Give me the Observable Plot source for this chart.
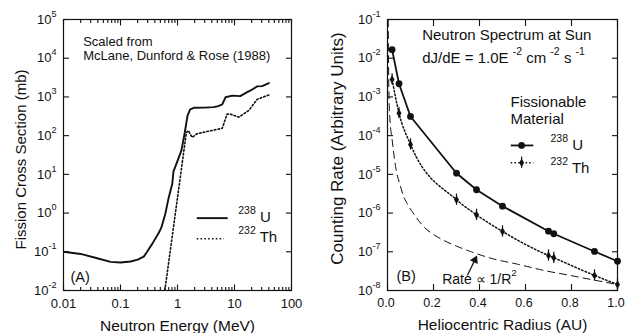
<!DOCTYPE html>
<html><head><meta charset="utf-8">
<script src="https://cdn.jsdelivr.net/npm/d3@7"></script>
<script src="https://cdn.jsdelivr.net/npm/@observablehq/plot@0.6"></script>
<style>
html,body{margin:0;padding:0;background:#fff;}
#chart{display:flex;width:625px;height:333px;background:#fff;overflow:hidden}
#chart svg{display:block;overflow:visible;flex:none}
</style></head><body><div id="chart"></div>
<script>
// ---------- Panel A: fission cross sections ----------
const uEnergy = [0.01,0.02,0.039,0.067,0.1,0.15,0.2,0.256,0.293,0.36,0.47,0.52,0.61,0.7,0.81,0.85,0.92,1.17,1.33,1.5,1.67,1.94,3.0,4.3,5.2,6.1,6.95,9.1,12.6,16.7,19.2,25,30.5,40];
const uCross  = [0.1,0.088,0.068,0.055,0.053,0.056,0.063,0.075,0.1,0.16,0.31,0.42,0.95,2.5,5.7,12,16,41,112,330,480,525,530,545,580,640,980,1080,1050,1330,1470,1870,1900,2280];
const thEnergy = [0.6,1.43,1.55,1.8,2.2,3.5,6.1,7.4,8.5,11.9,17.8,24.9,30,40];
const thCross  = [0.01,120,135,90,112,130,155,360,360,300,447,860,960,1120];

const xTicksA = [0.01,0.1,1,10,100];
const xTickLabelsA = ["0.01","0.1","1","10","100"];
const xMinorA = [0.02,0.03,0.04,0.05,0.06,0.07,0.08,0.09,0.2,0.3,0.4,0.5,0.6,0.7,0.8,0.9,2,3,4,5,6,7,8,9,20,30,40,50,60,70,80,90];
const yTicksA = [1e-2,1e-1,1,10,100,1e3,1e4,1e5];
const yTickLabelsA = ["10^{-2}","10^{-1}","10^{0}","10^{1}","10^{2}","10^{3}","10^{4}","10^{5}"];

// ---------- Panel B: counting rate vs heliocentric radius ----------
const radius = [0.02,0.05,0.1,0.3,0.387,0.5,0.7,0.723,0.9,1.0];
const uRate  = [0.0166,0.00219,3.13e-4,1.07e-5,4.0e-6,1.51e-6,3.4e-7,2.92e-7,1.02e-7,5.7e-8];
const thRate = [2.83e-3,3.81e-4,5.93e-5,2.21e-6,9.0e-7,3.35e-7,8.0e-8,7.0e-8,2.45e-8,1.43e-8];
const thErrFactor = 1.4;
const invRadius = [0.003,0.006,0.01,0.02,0.035,0.056,0.071,0.086,0.12,0.158,0.2,0.245,0.3,0.36,0.45,0.564,0.68,0.796,0.9,1.0];
const invRate   = [0.1,1.5e-3,3e-4,8e-5,1.6e-5,5e-6,2.6e-6,1.74e-6,8.5e-7,4.4e-7,2.8e-7,1.96e-7,1.4e-7,1.02e-7,6.8e-8,4.8e-8,3.3e-8,2.44e-8,1.85e-8,1.43e-8];

const rTicksB = [0,0.2,0.4,0.6,0.8,1.0];
const rTickLabelsB = ["0.0","0.2","0.4","0.6","0.8","1.0"];
const yTicksB = [1e-8,1e-7,1e-6,1e-5,1e-4,1e-3,1e-2,1e-1];
const yTickLabelsB = ["10^{-8}","10^{-7}","10^{-6}","10^{-5}","10^{-4}","10^{-3}","10^{-2}","10^{-1}"];

const FONT = "'Liberation Sans', Arial, Helvetica, sans-serif";
const INK = "#111";

const uRows = uEnergy.map((e,i)=>({e, s:uCross[i]}));
const thRows = thEnergy.map((e,i)=>({e, s:thCross[i]}));
const uB = radius.map((r,i)=>({r, v:uRate[i]}));
const thB = radius.map((r,i)=>({r, v:thRate[i], lo: thRate[i]/thErrFactor, hi: thRate[i]*thErrFactor}));
const invB = invRadius.map((r,i)=>({r, v:invRate[i]}));

function fmt(ticks, labels){ return d => { const i = ticks.findIndex(t => Math.abs(t-d) <= Math.abs(t)*1e-9 + 1e-12); return i<0 ? "" : labels[i]; }; }

function tickAxes(axis, anchor, ticks, size){
  return axis({anchor, ticks, tickSize:size, fill:"none", label:null, stroke:INK, strokeWidth:1.1});
}

const left = Plot.plot({
  width: 312, height: 333,
  marginLeft: 63, marginRight: 21, marginTop: 19, marginBottom: 43,
  x: {type:"log", domain:[0.01,100]},
  y: {type:"log", domain:[0.01,1e5]},
  style: {fontFamily: FONT, fontSize:"13px", color: INK, background:"white", overflow:"visible"},
  marks: [
    Plot.line(uRows, {x:"e", y:"s", stroke:INK, strokeWidth:1.9, clip:true}),
    Plot.line(thRows, {x:"e", y:"s", stroke:INK, strokeWidth:1.6, strokeDasharray:"1.6,2.2", clip:true}),
    tickAxes(Plot.axisX, "bottom", xTicksA, -5.5),
    tickAxes(Plot.axisX, "bottom", xMinorA, -3),
    tickAxes(Plot.axisX, "top", xTicksA, -5.5),
    tickAxes(Plot.axisX, "top", xMinorA, -3),
    tickAxes(Plot.axisY, "left", yTicksA, -6),
    tickAxes(Plot.axisY, "right", yTicksA, -6),
    Plot.axisX({anchor:"bottom", ticks:xTicksA, tickFormat: fmt(xTicksA, xTickLabelsA), tickSize:0, tickPadding:8, fontSize:13, label:null, fill:INK}),
    Plot.axisY({anchor:"left", ticks:yTicksA, tickFormat: fmt(yTicksA, yTickLabelsA), tickSize:0, tickPadding:7, fontSize:13, label:null, fill:INK}),
    Plot.frame({stroke:INK, strokeWidth:1.2}),
    // legend samples
    Plot.ruleY([0.74], {x1:2.22, x2:7.75, stroke:INK, strokeWidth:1.9}),
    Plot.ruleY([0.217], {x1:2.22, x2:6.6, stroke:INK, strokeWidth:1.6, strokeDasharray:"1.6,2.2"}),
    Plot.text(["^{238} U"], {frameAnchor:"top-left", dx:174.7, dy:202, lineAnchor:"bottom", textAnchor:"start", fontSize:15, fill:INK}),
    Plot.text(["^{232} Th"], {frameAnchor:"top-left", dx:174.7, dy:222, lineAnchor:"bottom", textAnchor:"start", fontSize:15, fill:INK}),
    // annotations
    Plot.text(["Scaled from"], {frameAnchor:"top-left", dx:19.7, dy:26, lineAnchor:"bottom", textAnchor:"start", fontSize:13, fill:INK}),
    Plot.text(["McLane, Dunford & Rose (1988)"], {frameAnchor:"top-left", dx:19.7, dy:40.3, lineAnchor:"bottom", textAnchor:"start", fontSize:13, fill:INK}),
    Plot.text(["(A)"], {frameAnchor:"top-left", dx:7, dy:262.7, lineAnchor:"bottom", textAnchor:"start", fontSize:14.5, fill:INK}),
    // axis titles
    Plot.text(["Neutron Energy (MeV)"], {frameAnchor:"bottom", dy:40, lineAnchor:"bottom", textAnchor:"middle", fontSize:15.5, fill:INK}),
    Plot.text(["Fission Cross Section (mb)"], {frameAnchor:"left", dx:-38, dy:4.5, rotate:-90, lineAnchor:"bottom", textAnchor:"middle", fontSize:15, fill:INK})
  ]
});

const right = Plot.plot({
  width: 313, height: 333,
  marginLeft: 75, marginRight: 8, marginTop: 19, marginBottom: 43,
  x: {type:"linear", domain:[0,1]},
  y: {type:"log", domain:[1e-8,0.1]},
  style: {fontFamily: FONT, fontSize:"13px", color: INK, background:"white", overflow:"visible"},
  marks: [
    Plot.line(invB, {x:"r", y:"v", stroke:INK, strokeWidth:1, strokeDasharray:"7,5", curve:"monotone-x", clip:true}),
    Plot.line(thB, {x:"r", y:"v", stroke:INK, strokeWidth:1.5, strokeDasharray:"1.5,2.2", curve:"monotone-x", clip:true}),
    Plot.ruleX(thB, {x:"r", y1:"lo", y2:"hi", stroke:INK, strokeWidth:1.2}),
    Plot.dot(thB, {x:"r", y:"v", symbol:"diamond", r:2.6, fill:INK, stroke:"none"}),
    Plot.line(uB, {x:"r", y:"v", stroke:INK, strokeWidth:1.8}),
    Plot.dot(uB, {x:"r", y:"v", r:3.4, fill:INK, stroke:"none"}),
    tickAxes(Plot.axisX, "bottom", rTicksB, -6),
    tickAxes(Plot.axisX, "top", rTicksB, -6),
    tickAxes(Plot.axisY, "left", yTicksB, -6),
    tickAxes(Plot.axisY, "right", yTicksB, -6),
    Plot.axisX({anchor:"bottom", ticks:rTicksB, tickFormat: fmt(rTicksB, rTickLabelsB), tickSize:0, tickPadding:8, dx:-1.5, fontSize:12.5, label:null, fill:INK}),
    Plot.axisY({anchor:"left", ticks:yTicksB, tickFormat: fmt(yTicksB, yTickLabelsB), tickSize:0, tickPadding:7, fontSize:13, label:null, fill:INK}),
    Plot.frame({stroke:INK, strokeWidth:1.2}),
    // legend samples
    Plot.ruleY([5.58e-5], {x1:0.538, x2:0.636, stroke:INK, strokeWidth:1.8}),
    Plot.dot([{r:0.583, v:5.58e-5}], {x:"r", y:"v", r:3.4, fill:INK, stroke:"none"}),
    Plot.ruleY([2.0e-5], {x1:0.538, x2:0.636, stroke:INK, strokeWidth:1.5, strokeDasharray:"1.5,2.2"}),
    Plot.ruleX([{r:0.583, lo:2.0e-5/thErrFactor, hi:2.0e-5*thErrFactor}], {x:"r", y1:"lo", y2:"hi", stroke:INK, strokeWidth:1.2}),
    Plot.dot([{r:0.583, v:2.0e-5}], {x:"r", y:"v", symbol:"diamond", r:2.6, fill:INK, stroke:"none"}),
    Plot.text(["^{238} U"], {frameAnchor:"top-left", dx:163, dy:130, lineAnchor:"bottom", textAnchor:"start", fontSize:15, fill:INK}),
    Plot.text(["^{232} Th"], {frameAnchor:"top-left", dx:163, dy:153.7, lineAnchor:"bottom", textAnchor:"start", fontSize:15, fill:INK}),
    Plot.text(["Fissionable"], {frameAnchor:"top-left", dx:123, dy:87, lineAnchor:"bottom", textAnchor:"start", fontSize:15, fill:INK}),
    Plot.text(["Material"], {frameAnchor:"top-left", dx:123, dy:104.3, lineAnchor:"bottom", textAnchor:"start", fontSize:15, fill:INK}),
    // header annotations
    Plot.text(["Neutron Spectrum at Sun"], {frameAnchor:"top-left", dx:34.7, dy:20.3, lineAnchor:"bottom", textAnchor:"start", fontSize:15, fill:INK}),
    Plot.text(["dJ/dE = 1.0E ^{-2} cm ^{-2} s ^{-1}"], {frameAnchor:"top-left", dx:34.7, dy:43.7, lineAnchor:"bottom", textAnchor:"start", fontSize:15, fill:INK}),
    Plot.text(["(B)"], {frameAnchor:"top-left", dx:9, dy:261, lineAnchor:"bottom", textAnchor:"start", fontSize:14.5, fill:INK}),
    Plot.text(["Rate \u221D 1/R^{2}"], {frameAnchor:"top-left", dx:54.7, dy:264.3, lineAnchor:"bottom", textAnchor:"start", fontSize:14, fill:INK}),
    // arrow pointing to the 1/R^2 curve
    Plot.link([{x1:0.347, y1:2.45e-8, x2:0.380, y2:6.18e-8}], {x1:"x1", y1:"y1", x2:"x2", y2:"y2", stroke:INK, strokeWidth:1.2}),
    Plot.dot([{r:0.380, v:6.18e-8}], {x:"r", y:"v", symbol:"triangle", r:3.2, rotate:26, fill:INK, stroke:"none"}),
    // axis titles
    Plot.text(["Heliocentric Radius (AU)"], {frameAnchor:"bottom", dy:39, lineAnchor:"bottom", textAnchor:"middle", fontSize:15.5, fill:INK}),
    Plot.text(["Counting Rate (Arbitrary Units)"], {frameAnchor:"left", dx:-45, dy:-6.5, rotate:-90, lineAnchor:"bottom", textAnchor:"middle", fontSize:17, fill:INK})
  ]
});

const host = document.getElementById("chart");
host.appendChild(left);
host.appendChild(right);

// render ^{...} as real superscript tspans
function addSpan(el, str, fs){
  const ts = document.createElementNS("http://www.w3.org/2000/svg","tspan");
  ts.textContent = str;
  if (fs){ ts.setAttribute("font-size", (fs*0.7).toFixed(1)+"px"); ts.setAttribute("baseline-shift", (fs*0.56).toFixed(1)+"px"); }
  el.appendChild(ts);
}
function supify(root){
  root.querySelectorAll("text").forEach(t => {
    const targets = t.querySelector("tspan") ? [...t.querySelectorAll("tspan")] : [t];
    targets.forEach(el => {
      const s = el.textContent;
      if (!s.includes("^{")) return;
      const fs = parseFloat(getComputedStyle(el).fontSize) || 13;
      el.textContent = "";
      const re = /\^\{([^}]*)\}/g; let last = 0, m;
      while ((m = re.exec(s))){
        if (m.index > last) addSpan(el, s.slice(last, m.index), null);
        addSpan(el, m[1], fs);
        last = re.lastIndex;
      }
      if (last < s.length) addSpan(el, s.slice(last), null);
    });
  });
}
supify(left); supify(right);
</script></body></html>
